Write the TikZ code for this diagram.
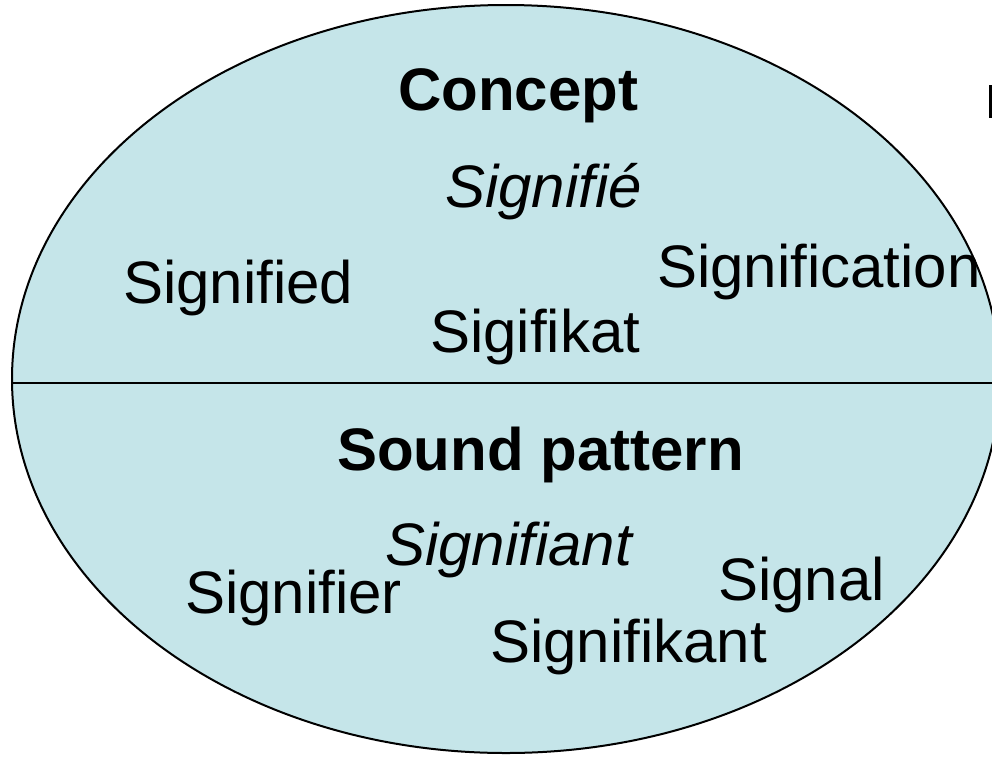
\documentclass[tikz,border=0pt]{standalone}
\usepackage{fontspec}
\setmainfont{Liberation Sans}
\definecolor{ovalfill}{RGB}{197,229,233}
\begin{document}
\begin{tikzpicture}[x=1pt,y=-1pt,
  lbl/.style={anchor=base west,inner sep=0pt,font=\fontsize{60}{70}\selectfont},
  head/.style={lbl,font=\fontsize{60}{70}\selectfont\bfseries},
  ital/.style={lbl,font=\fontsize{60}{70}\selectfont\itshape}]
\useasboundingbox (0,0) rectangle (992,758);
\clip (0,0) rectangle (992,758);
\fill[white] (0,0) rectangle (992,758);
\filldraw[fill=ovalfill,draw=black,line width=2pt] (506,379) ellipse [x radius=494,y radius=374];
\coordinate (divL) at (12,383);
\coordinate (divR) at (1000,383);
\draw[line width=2pt] (divL) -- (divR);
\fill (989,85) rectangle (992,118);
\node[head] (concept) at (398,110) {Concept};
\node[ital] (signifie) at (445,207) {Signifié};
\node[lbl] (signified) at (123,303) {Signified};
\node[lbl] (signification) at (657,287) {Signification};
\node[lbl] (sigifikat) at (430,352) {Sigifikat};
\node[head] (sound) at (337,470) {Sound pattern};
\node[ital] (signifiant) at (385,565) {Signifiant};
\node[lbl] (signifier) at (185,613) {Signifier};
\node[lbl] (signal) at (718,600) {Signal};
\node[lbl] (signifikant) at (490,662) {Signifikant};
\end{tikzpicture}
\end{document}
